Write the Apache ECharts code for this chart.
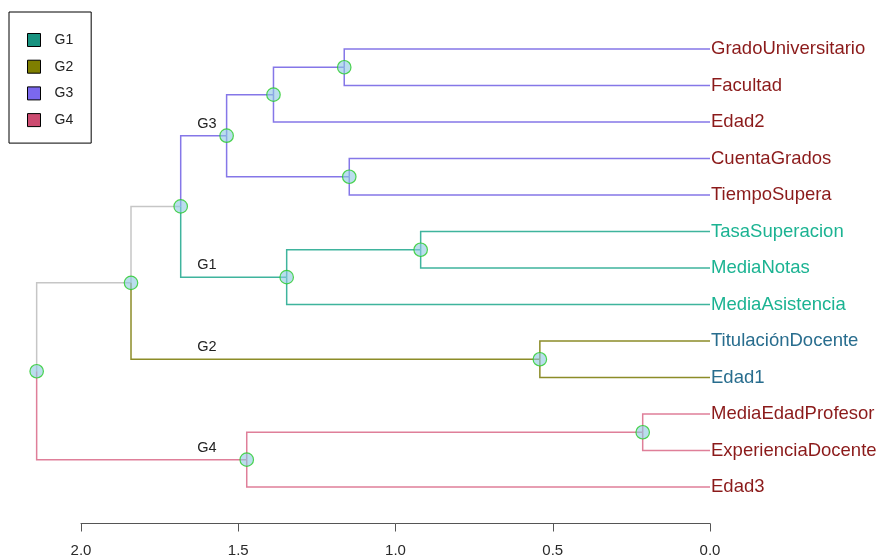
<!DOCTYPE html>
<html>
<head>
<meta charset="utf-8">
<script src="https://cdn.jsdelivr.net/npm/echarts@6/dist/echarts.min.js"></script>
<style>html,body{margin:0;padding:0;background:#fff}#c{width:879px;height:560px}</style>
</head>
<body>
<div id="c"></div>
<script>
// ---- data ----
const leaves = ["GradoUniversitario","Facultad","Edad2","CuentaGrados","TiempoSupera","TasaSuperacion","MediaNotas","MediaAsistencia","TitulaciónDocente","Edad1","MediaEdadProfesor","ExperienciaDocente","Edad3"];
// hclust-like merge table: negative = leaf (1-based, display order), positive = earlier merge step
const mergeLeft  = [-1, 1, -4, 2, -6, 5, 4, -9, 7, -11, 10, 9];
const mergeRight = [-2, -3, -5, 3, -7, -8, 6, -10, 8, -12, -13, 11];
const mergeHeight = [1.163, 1.388, 1.147, 1.537, 0.920, 1.346, 1.683, 0.541, 1.841, 0.214, 1.473, 2.141];
const groupNames = ["G1","G2","G3","G4"];
const groupRootStep = [6, 8, 4, 11];
const axisTicks = [0, 0.5, 1.0, 1.5, 2.0];

// ---- styles ----
const FONT = "'Liberation Sans', Arial, sans-serif";
const lineColors = {G1:"#3fb49d", G2:"#8c8c28", G3:"#8577e8", G4:"#df7f99", base:"#c6c6c6"};
const swatchColors = {G1:"#17927f", G2:"#7f7f00", G3:"#7b68ee", G4:"#cc4b70"};
const labelColors = {G1:"#1bb392", G2:"#286d8e", G3:"#8b1a1a", G4:"#8b1a1a"};

// ---- tree layout ----
const nodeY = {};
function childInfo(c){
  if (c < 0) return {h:0, y:-c};
  return {h:mergeHeight[c-1], y:nodeY[c]};
}
for (let s = 1; s <= mergeHeight.length; s++){
  nodeY[s] = (childInfo(mergeLeft[s-1]).y + childInfo(mergeRight[s-1]).y) / 2;
}
const stepGroup = {}, leafGroup = {};
function mark(c, g){
  if (c < 0){ leafGroup[-c] = g; return; }
  stepGroup[c] = g;
  mark(mergeLeft[c-1], g); mark(mergeRight[c-1], g);
}
groupRootStep.forEach((s,i)=>mark(s, groupNames[i]));

const edgeData = {base:[], G1:[], G2:[], G3:[], G4:[]};
for (let s = 1; s <= mergeHeight.length; s++){
  [mergeLeft[s-1], mergeRight[s-1]].forEach(c=>{
    const ci = childInfo(c);
    const g = c < 0 ? leafGroup[-c] : (stepGroup[c] || 'base');
    edgeData[g].push([mergeHeight[s-1], nodeY[s], ci.h, ci.y]);
  });
}
const nodeData = [];
for (let s = 1; s <= mergeHeight.length; s++) nodeData.push([mergeHeight[s-1], nodeY[s]]);
const leafData = leaves.map((n,i)=>[0, i+1, n, leafGroup[i+1]]);
const groupLabelData = groupRootStep.map((s,i)=>[1.60, nodeY[s], groupNames[i]]);

function edgeSeries(key){
  return {
    type:'custom', name:key, clip:false, silent:true, z:2,
    data: edgeData[key],
    renderItem:(params, api)=>{
      const p0 = api.coord([api.value(0), api.value(1)]);
      const p1 = api.coord([api.value(0), api.value(3)]);
      const p2 = api.coord([api.value(2), api.value(3)]);
      return {type:'polyline', shape:{points:[p0,p1,p2]},
        style:{stroke:lineColors[key], lineWidth:1.5, fill:null}};
    }
  };
}

const chart = echarts.init(document.getElementById('c'), null, {renderer:'canvas'});
chart.setOption({
  animation:false,
  backgroundColor:'#ffffff',
  grid:{left:81, right:169, top:12.5, height:511},
  xAxis:{type:'value', inverse:true, min:0, max:2, interval:0.5, position:'bottom',
    axisLine:{show:true, onZero:false, lineStyle:{color:'#555', width:1}},
    axisTick:{show:true, length:8, lineStyle:{color:'#555'}},
    splitLine:{show:false},
    axisLabel:{margin:20, fontSize:15, color:'#2a2a2a', fontFamily:FONT,
      formatter:v=>axisTicks.includes(v)? v.toFixed(1):''}},
  yAxis:{type:'value', inverse:true, min:0, max:14, show:false},
  legend:{
    orient:'vertical', left:9, top:12,
    borderColor:'#000', borderWidth:1, borderRadius:0,
    padding:[21, 18, 16, 18], itemGap:12.7, itemWidth:13, itemHeight:13,
    icon:'rect',
    textStyle:{fontSize:14, color:'#222', fontFamily:FONT, padding:[0,0,0,9]},
    data: groupNames.map(g=>({name:g, icon:'rect',
      itemStyle:{color:swatchColors[g], borderColor:'#000', borderWidth:1}}))
  },
  series:[
    edgeSeries('base'), edgeSeries('G1'), edgeSeries('G2'), edgeSeries('G3'), edgeSeries('G4'),
    {type:'scatter', clip:false, silent:true, z:5, data:nodeData, symbol:'circle', symbolSize:13.5,
      itemStyle:{color:'rgba(140,200,225,0.75)', borderColor:'#25cc25', borderWidth:1.2}},
    {type:'custom', clip:false, silent:true, z:6, data:leafData,
      renderItem:(params, api)=>{
        const p = api.coord([api.value(0), api.value(1)]);
        const d = leafData[params.dataIndex];
        return {type:'text', x:p[0]+1, y:p[1],
          style:{text:d[2], fill:labelColors[d[3]], font:'18.5px '+FONT, textAlign:'left', textVerticalAlign:'middle'}};
      }},
    {type:'custom', clip:false, silent:true, z:6, data:groupLabelData,
      renderItem:(params, api)=>{
        const p = api.coord([api.value(0), api.value(1)]);
        const d = groupLabelData[params.dataIndex];
        return {type:'text', x:p[0], y:p[1]-12,
          style:{text:d[2], fill:'#222', font:'14.5px '+FONT, textAlign:'center', textVerticalAlign:'middle'}};
      }}
  ]
});
</script>
</body>
</html>
